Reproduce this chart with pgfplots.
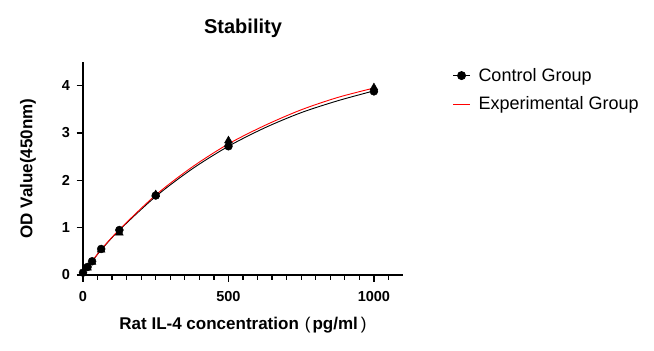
\documentclass[border=0pt]{standalone}
\usepackage{pgfplots}
\pgfplotsset{compat=1.18}
\usepackage{fontspec}
\setmainfont{Liberation Sans}
\begin{document}
\begin{tikzpicture}[x=1bp,y=1bp]
\useasboundingbox (0,0) rectangle (654,350);
\node[font=\bfseries\fontsize{20bp}{24bp}\selectfont] at (243,322) {Stability};
\begin{axis}[
  at={(83bp,75bp)}, anchor=south west,
  scale only axis, width=320bp, height=213bp,
  xmin=0, xmax=1100, ymin=0, ymax=4.5,
  axis x line*=bottom, axis y line*=left,
  axis line style={line width=1.3bp, -},
  xtick={0,500,1000}, minor xtick={50,100,...,1050},
  ytick={0,1,2,3,4},
  scaled x ticks=false,
  xticklabel style={/pgf/number format/1000 sep={}, yshift=-6bp},
  yticklabel style={xshift=-3bp},
  tick style={line width=1.3bp, black},
  major tick length=6.5bp, minor tick length=4.5bp,
  tick align=outside,
  /pgf/number format/assume math mode=true,
  ticklabel style={font=\bfseries\fontsize{14.5bp}{16bp}\selectfont},
  xlabel={Rat IL-4 concentration\hspace{6bp}{\mdseries(}\hspace{2bp}pg/ml\hspace{3bp}{\mdseries)}},
  ylabel={OD Value(450nm)},
  label style={font=\bfseries\fontsize{17bp}{19bp}\selectfont},
  xlabel style={at={(axis description cs:0.5,-0.235)}, anchor=center},
  ylabel style={at={(axis description cs:-0.172,0.5)}, anchor=center},
  legend style={at={(1.145,0.99)}, anchor=north west, draw=none, fill=none,
    font=\fontsize{18bp}{21bp}\selectfont, row sep=10bp},
  legend cell align=left,
  clip=false,
]
\addlegendimage{black, line width=0.9bp, mark=*, mark size=4bp}
\addlegendentry{\hspace{6bp}Control Group}
\addlegendimage{red, line width=0.9bp}
\addlegendentry{\hspace{6bp}Experimental Group}
% fitted curves
\addplot[black, line width=0.9bp, smooth, forget plot] coordinates {
 (0,0.04) (15.6,0.17) (31.25,0.29) (62.5,0.53) (125,0.95) (250,1.66) (375,2.24) (500,2.72) (625,3.11) (750,3.43) (875,3.68) (1000,3.89)};
\addplot[red, line width=0.9bp, smooth, forget plot] coordinates {
 (0,0.04) (15.6,0.17) (31.25,0.29) (62.5,0.54) (125,0.96) (250,1.69) (375,2.28) (500,2.77) (625,3.16) (750,3.49) (875,3.75) (1000,3.95)};
% experimental points (triangles)
\addplot[only marks, mark=triangle*, mark size=4.5bp, black, forget plot] coordinates {
 (0,0.04) (15.6,0.15) (31.25,0.27) (62.5,0.53) (125,0.89) (250,1.70) (500,2.84) (1000,3.96)};
% control points (circles)
\addplot[only marks, mark=*, mark size=4bp, black, forget plot] coordinates {
 (0,0.05) (15.6,0.17) (31.25,0.29) (62.5,0.55) (125,0.95) (250,1.68) (500,2.72) (1000,3.88)};
\end{axis}
\end{tikzpicture}
\end{document}
